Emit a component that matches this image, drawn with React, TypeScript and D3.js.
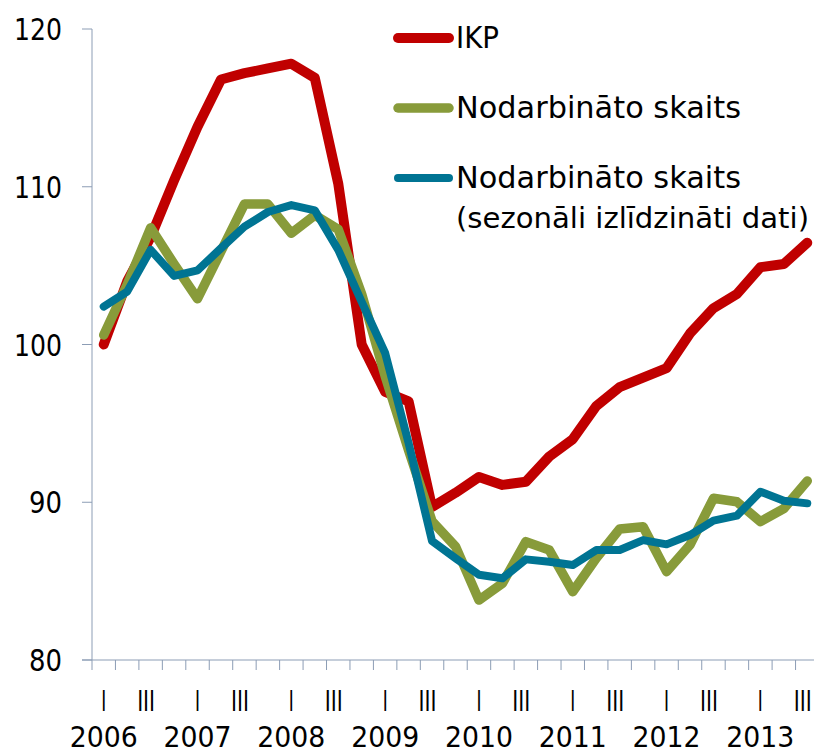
import React from "react";
import * as d3 from "d3";

const quarters = ["I","II","III","IV","I","II","III","IV","I","II","III","IV","I","II","III","IV","I","II","III","IV","I","II","III","IV","I","II","III","IV","I","II","III"];
const years = ["2006","2007","2008","2009","2010","2011","2012","2013"];
const yTicks = [80, 90, 100, 110, 120];

const ikp = [100.0,104.0,106.8,110.4,113.8,116.8,117.2,117.5,117.8,116.9,110.2,100.0,97.0,96.4,89.7,90.6,91.6,91.1,91.3,92.9,94.0,96.1,97.3,97.9,98.5,100.7,102.3,103.2,104.9,105.1,106.45];
const nodarb = [100.6,103.8,107.4,105.1,102.9,105.9,108.9,108.9,107.05,108.2,107.3,103.2,98.0,93.3,88.8,87.2,83.8,84.86,87.5,86.97,84.33,86.45,88.3,88.45,85.6,87.3,90.25,90.03,88.77,89.6,91.35];
const nodarbSA = [102.4,103.35,106.0,104.35,104.7,106.1,107.47,108.4,108.84,108.5,106.0,102.7,99.46,93.75,87.54,86.45,85.4,85.18,86.38,86.23,86.02,86.97,86.97,87.6,87.33,87.92,88.83,89.15,90.67,90.1,89.93];

const seriesNames = ["IKP", "Nodarbināto skaits", "Nodarbināto skaits"];
const seriesColors = ["#C00000", "#889B3A", "#007493"];
const seriesWidths = [10, 9.5, 8];

const W = 818, H = 753;
const font = "'DejaVu Sans', sans-serif";
const axisColor = "#8C9DB5";

export default function App() {
  const idx = quarters.map((_, i) => i);
  const x = d3.scaleBand<number>().domain(idx).range([92, 819]).padding(0);
  const y = d3.scaleLinear().domain([80, 120]).range([660, 29]);
  const cx = (i: number) => (x(i) as number) + x.bandwidth() / 2;
  const line = d3.line<number>().x((_, i) => cx(i)).y((d) => y(d));
  const data = [ikp, nodarb, nodarbSA];

  const legendY = [38, 108, 178];
  const textBase = [48, 118, 188];

  return (
    <svg width={W} height={H} style={{ position: "absolute", left: 0, top: 0, background: "#fff" }}>
      {/* y axis */}
      <line x1={92} x2={92} y1={y(120)} y2={y(80)} stroke={axisColor} strokeWidth={1} />
      {yTicks.map((t) => (
        <g key={t}>
          <line x1={82} x2={92} y1={y(t)} y2={y(t)} stroke={axisColor} strokeWidth={1} />
          <text x={62} y={y(t) + 11} textAnchor="end" fontFamily={font} fontSize={30} fill="#000"
            textLength={t >= 100 ? 48 : 33} lengthAdjust="spacingAndGlyphs">{t}</text>
        </g>
      ))}
      {/* x axis */}
      <line x1={82} x2={814} y1={y(80)} y2={y(80)} stroke={axisColor} strokeWidth={1} />
      {idx.map((i) => (
        <line key={i} x1={x(i) as number} x2={x(i) as number} y1={660} y2={670} stroke={axisColor} strokeWidth={1} />
      ))}
      {quarters.map((q, i) =>
        q === "I" || q === "III" ? (
          <text key={"q" + i} x={cx(i) - (q === "III" ? 4.5 : 0)} y={711} textAnchor="middle" fontFamily={font}
            fontSize={29} fill="#000" textLength={q === "III" ? 18 : 5} lengthAdjust="spacingAndGlyphs">{q}</text>
        ) : null
      )}
      {years.map((yr, k) => (
        <text key={yr} x={cx(k * 4)} y={747} textAnchor="middle" fontFamily={font} fontSize={29} fill="#000"
          textLength={68} lengthAdjust="spacingAndGlyphs">{yr}</text>
      ))}
      {/* lines */}
      {data.map((d, s) => (
        <path key={s} d={line(d) as string} fill="none" stroke={seriesColors[s]} strokeWidth={seriesWidths[s]}
          strokeLinecap="round" strokeLinejoin="round" />
      ))}
      {/* legend */}
      {seriesNames.map((n, s) => (
        <g key={"lg" + s}>
          <line x1={398} x2={449} y1={legendY[s]} y2={legendY[s]} stroke={seriesColors[s]} strokeWidth={seriesWidths[s]} strokeLinecap="round" />
          <text x={456} y={textBase[s]} fontFamily={font} fontSize={30} fill="#000"
            textLength={s === 0 ? 43 : 285} lengthAdjust="spacingAndGlyphs">{n}</text>
        </g>
      ))}
      <text x={456} y={228} fontFamily={font} fontSize={29} fill="#000" textLength={353} lengthAdjust="spacingAndGlyphs">(sezonāli izlīdzināti dati)</text>
    </svg>
  );
}
